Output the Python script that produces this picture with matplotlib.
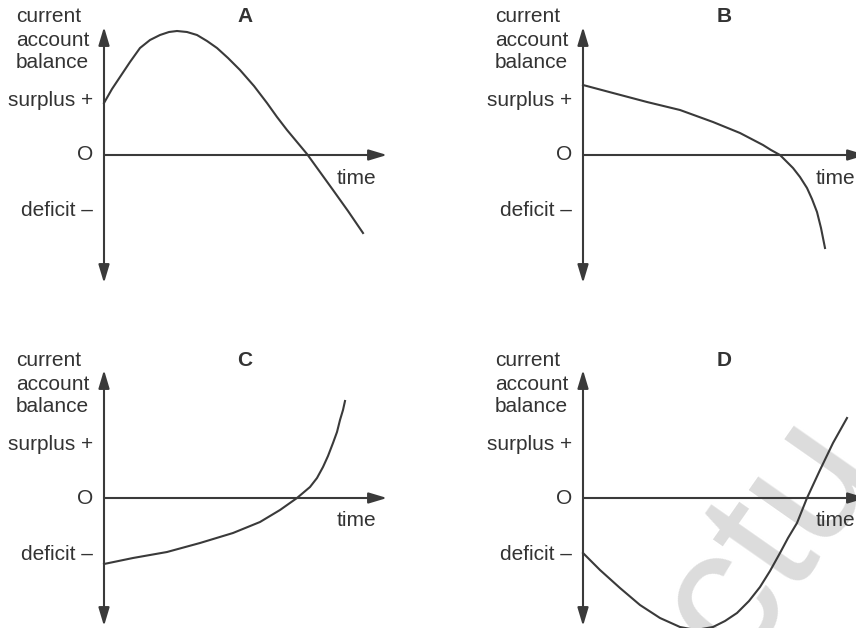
import matplotlib
matplotlib.use("Agg")
import matplotlib.pyplot as plt

plt.rcParams['font.family'] = ['Liberation Sans', 'DejaVu Sans']

INK = "#3a3a3a"
TEXT = "#333333"

# panel names
panels = ["A", "B", "C", "D"]

# curves (time, balance), origin where the axes cross
time_a = [0, 8, 16, 26, 36, 46, 56, 65, 73, 83, 93, 103, 113, 124, 136, 150, 163, 173, 183, 193, 203, 216, 229, 244, 259]
bal_a = [52, 66, 78, 93, 107, 115, 120, 123, 124, 123, 120, 114, 107, 97, 85, 69, 52, 38, 25, 13, 1, -17, -35, -56, -78]

time_b = [0, 30, 64, 97, 130, 157, 180, 188, 197, 210, 217, 224, 229, 234, 238, 242]
bal_b = [70, 62, 53, 45, 33, 22, 10, 5, 0, -13, -22, -33, -44, -57, -73, -93]

time_c = [0, 29, 63, 96, 129, 156, 176, 193, 206, 213, 219, 224, 229, 233, 236, 239, 241]
bal_c = [-66, -60, -54, -45, -35, -24, -12, 0, 11, 20, 31, 42, 55, 66, 78, 88, 97]

time_d = [0, 17, 37, 57, 77, 97, 113, 130, 142, 154, 166, 177, 187, 197, 205, 214, 224, 237, 250, 264]
bal_d = [-55, -72, -90, -107, -120, -129, -132, -129, -123, -115, -103, -89, -73, -55, -40, -25, 0, 28, 55, 80]

curves = {"A": (time_a, bal_a), "B": (time_b, bal_b), "C": (time_c, bal_c), "D": (time_d, bal_d)}

y_labels = ["current", "account", "balance"]
level_labels = ["surplus +", "O", "deficit \u2013"]

W, H = 856, 628
fig = plt.figure(figsize=(W / 100, H / 100), dpi=100)

# quadrant (col, row) and where the axes cross inside the quadrant, in pixels
layout = {"A": (0, 0, 104, 155), "B": (1, 0, 155, 155),
          "C": (0, 1, 104, 184), "D": (1, 1, 155, 184)}
QW, QH = W / 2, H / 2

# faint watermark in the lower right, under everything else
fig.text(736 / W, 1 - 668 / H, "ctu", fontsize=134, color="#dcdcdc",
	rotation=55, rotation_mode="anchor", ha="left", va="baseline", zorder=-1)

for name in panels:
	col, row, ox, oy = layout[name]
	ax = fig.add_axes([col * QW / W, 1 - (row + 1) * QH / H, QW / W, QH / H])
	ax.set_xlim(-ox, QW - ox)
	ax.set_ylim(-(QH - oy), oy)
	ax.axis("off")
	ax.patch.set_visible(False)

	# axes with arrow heads
	ax.annotate("", xy=(0, 128), xytext=(0, -128), annotation_clip=False,
		arrowprops=dict(arrowstyle="<|-|>,head_length=1.1,head_width=0.33",
			mutation_scale=10, color=INK, lw=1.5, shrinkA=0, shrinkB=0))
	ax.annotate("", xy=(283, 0), xytext=(0, 0), annotation_clip=False,
		arrowprops=dict(arrowstyle="-|>,head_length=1.1,head_width=0.33",
			mutation_scale=10, color=INK, lw=1.5, shrinkA=0, shrinkB=0))

	t, b = curves[name]
	ax.plot(t, b, color=INK, lw=1.5, solid_joinstyle="round", clip_on=False)

	for i, lab in enumerate(y_labels):
		ax.text(-88, [138, 114, 92][i], lab, ha="left", va="center",
			fontsize=15, color=TEXT)
	for i, lab in enumerate(level_labels):
		ax.text(-11, [54, 0, -56][i], lab, ha="right", va="center",
			fontsize=15, color=TEXT)
	ax.text(252, -23, "time", ha="center", va="center", fontsize=15, color=TEXT)
	ax.text(141, 138, name, ha="center", va="center", fontsize=15,
		fontweight="bold", color=TEXT)

fig.savefig("out.png", dpi=100, facecolor="white")
